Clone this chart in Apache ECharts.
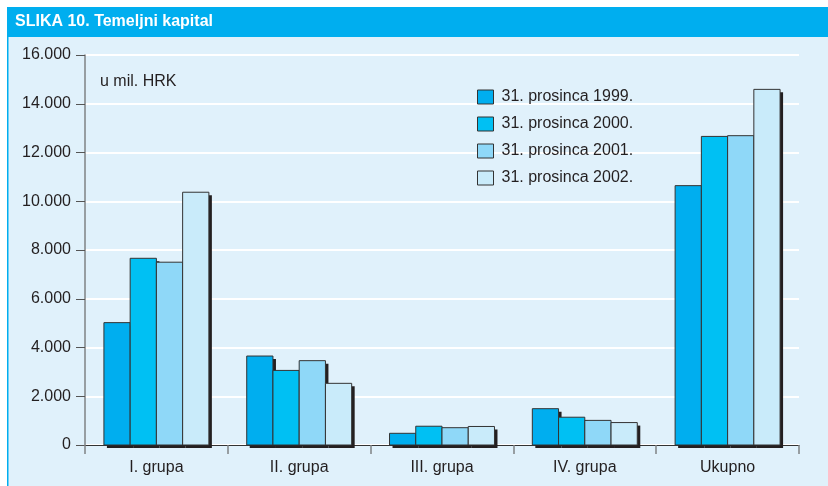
<!DOCTYPE html>
<html>
<head>
<meta charset="utf-8">
<script src="https://cdn.jsdelivr.net/npm/echarts@6/dist/echarts.min.js"></script>
<style>html,body{margin:0;padding:0;background:#fff}#c{width:828px;height:486px}</style>
</head>
<body>
<div id="c"></div>
<script>
const categories = ['I. grupa', 'II. grupa', 'III. grupa', 'IV. grupa', 'Ukupno'];
const seriesNames = ['31. prosinca 1999.', '31. prosinca 2000.', '31. prosinca 2001.', '31. prosinca 2002.'];
const v1999 = [5020, 3650, 480, 1490, 10640];
const v2000 = [7660, 3060, 770, 1140, 12660];
const v2001 = [7500, 3460, 710, 1010, 12690];
const v2002 = [10370, 2530, 760, 920, 14590];
const yTicks = [0, 2000, 4000, 6000, 8000, 10000, 12000, 14000, 16000];
const colors = ['#00aeef', '#00c0f3', '#8fd8f8', '#c9ebfa'];

const FONT = 'Liberation Sans, Arial, Helvetica, sans-serif';
const TXT = '#231f20';
const values = [v1999, v2000, v2001, v2002];
const GAP = 0.265;
const SHADOW = 3;

const chart = echarts.init(document.getElementById('c'), null, {renderer: 'canvas'});
const fmt = v => v === 0 ? '0' : (v / 1000).toFixed(3);

function makeRender(i) {
  return function (params, api) {
    const cat = api.value(0);
    const val = api.value(1);
    const top = api.coord([cat, val]);
    const base = api.coord([cat, 0]);
    const band = api.size([1, 0])[0];
    const groupW = band * (1 - GAP);
    const barW = groupW / values.length;
    const x0 = top[0] - groupW / 2 + i * barW;
    const h = base[1] - top[1];
    return {
      type: 'group',
      children: [
        {type: 'rect', shape: {x: x0 + SHADOW, y: top[1] + SHADOW, width: barW, height: h},
          style: {fill: '#231f20'}},
        {type: 'rect', shape: {x: x0, y: top[1], width: barW, height: h},
          style: {fill: colors[i], stroke: '#333', lineWidth: 1}}
      ]
    };
  };
}

chart.setOption({
  backgroundColor: '#ffffff',
  animation: false,
  textStyle: {fontFamily: FONT},
  graphic: {elements: [
    {type: 'rect', z: -100, shape: {x: 7, y: 37, width: 821, height: 449}, style: {fill: '#e0f1fb'}},
    {type: 'rect', z: -99, shape: {x: 7, y: 7, width: 821, height: 30}, style: {fill: '#00aeef'}},
    {type: 'rect', z: -99, shape: {x: 7, y: 37, width: 1.5, height: 449}, style: {fill: '#00aeef'}},
    {type: 'text', z: 10, x: 15, y: 22, style: {text: 'SLIKA 10. Temeljni kapital', fill: '#ffffff', font: 'bold 16px ' + FONT, textVerticalAlign: 'middle'}},
    {type: 'text', z: 10, x: 100, y: 82, style: {text: 'u mil. HRK', fill: TXT, font: '16px ' + FONT, textVerticalAlign: 'middle'}}
  ]},
  grid: {left: 85, right: 29, top: 55, bottom: 41, containLabel: false},
  legend: {
    orient: 'vertical', left: 477, top: 89, padding: 0, itemWidth: 16, itemHeight: 14, itemGap: 11,
    icon: 'rect',
    textStyle: {fontSize: 16, color: TXT, fontFamily: FONT, padding: [0, 0, 0, 3]},
    itemStyle: {borderColor: '#333', borderWidth: 1},
    data: seriesNames
  },
  xAxis: {
    type: 'category', data: categories,
    axisLine: {lineStyle: {color: '#333', width: 1}},
    axisTick: {show: true, length: 9, lineStyle: {color: '#7f8285', width: 1.5}},
    axisLabel: {color: TXT, fontSize: 16, margin: 15, fontFamily: FONT},
    splitLine: {show: false}
  },
  yAxis: {
    type: 'value', min: yTicks[0], max: yTicks[yTicks.length - 1], interval: yTicks[1] - yTicks[0],
    axisLine: {show: true, lineStyle: {color: '#7f8285', width: 1.5}},
    axisTick: {show: true, length: 9, lineStyle: {color: '#555', width: 1}},
    axisLabel: {color: TXT, fontSize: 16, margin: 14, fontFamily: FONT, formatter: fmt},
    splitLine: {show: true, lineStyle: {color: '#ffffff', width: 2}}
  },
  series: seriesNames.map((n, i) => ({
    name: n, type: 'custom', renderItem: makeRender(i),
    itemStyle: {color: colors[i], borderColor: '#333', borderWidth: 1},
    encode: {x: 0, y: 1},
    data: values[i].map((v, k) => [k, v])
  }))
});
</script>
</body>
</html>
